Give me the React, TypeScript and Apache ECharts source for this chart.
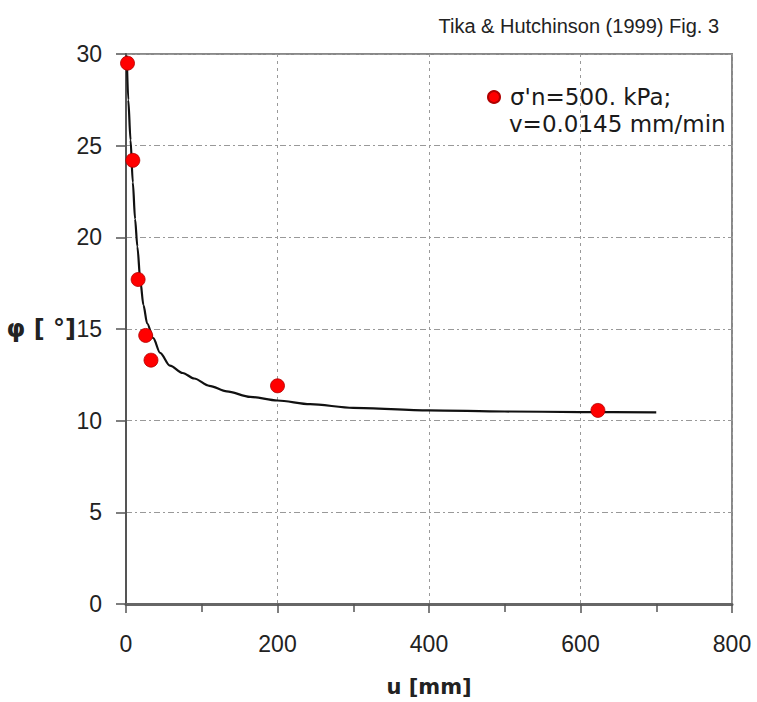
import React, { useEffect, useRef } from "react";
import * as echarts from "echarts";

const titleText = "Tika & Hutchinson (1999) Fig. 3";
const seriesName = "σ'n=500. kPa;";
const seriesNameLine2 = "v=0.0145 mm/min";
const xTicks = [0, 200, 400, 600, 800];
const yTicks = [0, 5, 10, 15, 20, 25, 30];

// measured points: displacement u [mm], friction angle φ [°]
const pointU = [2, 9, 16, 26, 33, 200, 623];
const pointPhi = [29.5, 24.2, 17.7, 14.65, 13.3, 11.9, 10.56];

// fitted curve
const curveU = [1, 3, 6, 9, 12, 15, 19, 23, 28, 36, 45, 58, 75, 90, 110, 133, 164, 200, 243, 300, 400, 500, 600, 700];
const curvePhi = [29.9, 27.5, 25.3, 23, 21, 19.5, 17.6, 16.3, 15.3, 14.5, 13.7, 13.0, 12.6, 12.3, 11.9, 11.6, 11.3, 11.1, 10.9, 10.7, 10.56, 10.5, 10.47, 10.45];

export default function App() {
  const ref = useRef<HTMLDivElement>(null);
  useEffect(() => {
    if (!ref.current) return;
    const chart = echarts.init(ref.current, null, { renderer: "svg" });
    const font = "Liberation Sans, Arial, sans-serif";
    const wide = "DejaVu Sans, sans-serif";
    chart.setOption({
      animation: false,
      backgroundColor: "#ffffff",
      title: {
        text: titleText,
        right: 33,
        top: 11,
        textStyle: { fontFamily: font, fontSize: 20, fontWeight: "normal", color: "#222" },
      },
      legend: {
        left: 482,
        top: 78,
        itemWidth: 22,
        itemHeight: 12,
        itemGap: 0,
        data: [{ name: seriesName, icon: "circle" }],
        textStyle: {
          fontFamily: wide,
          fontSize: 23,
          color: "#1a1a1a",
          lineHeight: 28,
        },
      },
      graphic: [
        {
          type: "text",
          left: 509,
          top: 112,
          style: {
            text: seriesNameLine2,
            fontFamily: wide,
            fontSize: 23,
            fill: "#1a1a1a",
          },
        },
      ],
      grid: {
        left: 126,
        right: 25,
        top: 54,
        bottom: 96,
        show: true,
        borderColor: "#888",
        borderWidth: 2,
        backgroundColor: "transparent",
      },
      xAxis: {
        type: "value",
        min: 0,
        max: 800,
        interval: 200,
        name: "u [mm]",
        nameLocation: "middle",
        nameGap: 72,
        nameTextStyle: { fontFamily: wide, fontSize: 21, fontWeight: "bold", color: "#222" },
        axisLine: { show: true, onZero: false, lineStyle: { color: "#666", width: 3 } },
        axisTick: { show: true, length: 9, lineStyle: { color: "#555", width: 1.5 } },
        minorTick: { show: true, splitNumber: 2, length: 8, lineStyle: { color: "#555", width: 1.5 } },
        axisLabel: {
          fontFamily: font,
          fontSize: 23,
          color: "#222",
          margin: 28,
          formatter: (v: number) => (xTicks.includes(v) ? String(v) : ""),
        },
        splitLine: { show: true, lineStyle: { color: "#999", type: [3, 4], width: 1 } },
      },
      yAxis: {
        type: "value",
        min: 0,
        max: 30,
        interval: 5,
        name: "φ [ °]",
        nameLocation: "middle",
        nameRotate: 0,
        nameGap: 50,
        nameMoveOverlap: false,
        nameTextStyle: { fontFamily: wide, fontSize: 24, fontWeight: "bold", color: "#222", padding: [6, 0, 0, 0] },
        axisLine: { show: true, lineStyle: { color: "#555", width: 2 } },
        axisTick: { show: true, length: 10, lineStyle: { color: "#555", width: 1.5 } },
        axisLabel: {
          fontFamily: font,
          fontSize: 23,
          color: "#222",
          margin: 24,
          formatter: (v: number) => (yTicks.includes(v) ? String(v) : ""),
        },
        splitLine: { show: true, lineStyle: { color: "#999", type: [6, 3, 2, 3], width: 1 } },
      },
      series: [
        {
          name: "curve",
          type: "line",
          data: curveU.map((u, i) => [u, curvePhi[i]]),
          showSymbol: false,
          symbol: "none",
          smooth: 0.3,
          smoothMonotone: "x",
          lineStyle: { color: "#111", width: 2.2 },
          z: 2,
        },
        {
          name: seriesName,
          type: "scatter",
          data: pointU.map((u, i) => [u, pointPhi[i]]),
          symbol: "circle",
          symbolSize: 14,
          itemStyle: { color: "#ff0000", borderColor: "#b00000", borderWidth: 0.8, opacity: 1 },
          z: 3,
        },
      ],
    });
    return () => chart.dispose();
  }, []);
  return (
    <div
      ref={ref}
      style={{ position: "fixed", left: 0, top: 0, width: 757, height: 702 }}
    />
  );
}
